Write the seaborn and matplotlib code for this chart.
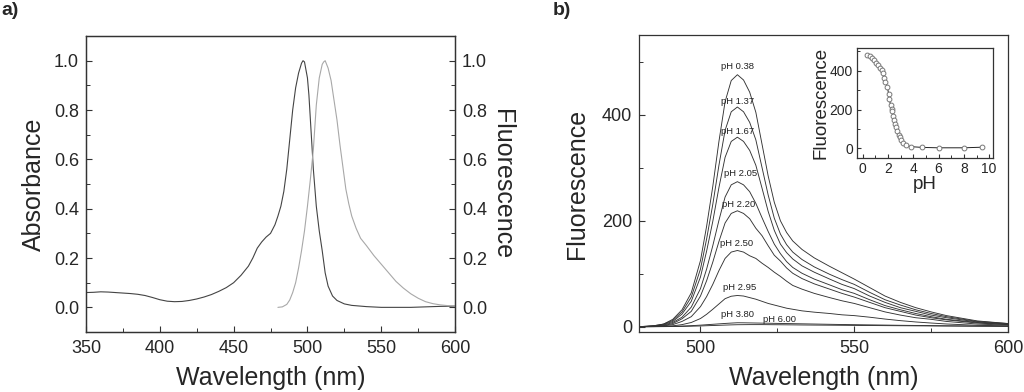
import matplotlib
matplotlib.use('Agg')
import matplotlib.pyplot as plt
import numpy as np
import pandas as pd
import seaborn as sns
from matplotlib.ticker import MultipleLocator

# ---- panel a: absorbance / fluorescence spectra
abs_wl = [350, 355, 360, 365, 370, 375, 380, 385, 390, 395, 400, 405, 410, 415, 420, 425,
          430, 435, 440, 445, 450, 455, 460, 463, 466, 469, 472, 475, 478, 480, 482, 484,
          486, 488, 490, 492, 494, 496, 497, 498, 500, 501, 502, 504, 506, 508, 510, 512,
          514, 517, 520, 525, 530, 540, 550, 560, 570, 580, 590, 600]
absorb = [0.060, 0.061, 0.063, 0.062, 0.060, 0.058, 0.056, 0.053, 0.048, 0.040, 0.031, 0.025,
          0.023, 0.024, 0.028, 0.034, 0.042, 0.052, 0.065, 0.080, 0.100, 0.130, 0.167, 0.20,
          0.24, 0.265, 0.285, 0.30, 0.335, 0.37, 0.41, 0.47, 0.56, 0.68, 0.80, 0.89, 0.95,
          0.99, 1.0, 0.995, 0.93, 0.86, 0.76, 0.56, 0.41, 0.31, 0.23, 0.14, 0.086, 0.046,
          0.028, 0.014, 0.008, 0.003, 0.0, 0.0, 0.0, 0.002, 0.004, 0.005]

fl_wl = [480, 483, 486, 488, 490, 492, 494, 496, 498, 500, 502, 504, 506, 508, 510, 511, 512,
         514, 516, 518, 520, 522, 524, 526, 528, 530, 533, 536, 540, 545, 550, 555, 560, 565,
         570, 575, 580, 585, 590, 595, 600]
fl_norm = [0.0, 0.002, 0.012, 0.03, 0.06, 0.10, 0.16, 0.23, 0.31, 0.41, 0.52, 0.64, 0.82, 0.93,
           0.985, 0.995, 1.0, 0.97, 0.92, 0.84, 0.76, 0.66, 0.57, 0.48, 0.42, 0.37, 0.32, 0.28,
           0.25, 0.21, 0.175, 0.14, 0.105, 0.078, 0.055, 0.037, 0.023, 0.015, 0.01, 0.007, 0.005]

# ---- panel b: emission spectra at different pH
wl = [480, 485, 488, 491, 494, 497, 500, 502, 504, 506, 508, 510, 512, 514, 516, 518, 520, 522,
      524, 526, 528, 530, 533, 537, 542, 546, 550, 555, 560, 565, 570, 575, 580, 590, 600]
ph_labels = ['pH 0.38', 'pH 1.37', 'pH 1.67', 'pH 2.05', 'pH 2.20', 'pH 2.50', 'pH 2.95',
             'pH 3.80', 'pH 6.00']
f_038 = [0, 2, 5, 14, 32, 64, 125, 190, 265, 350, 425, 465, 476, 466, 443, 405, 345, 285,
         235, 200, 178, 162, 146, 130, 114, 102, 90, 74, 58, 46, 36, 28, 21, 11, 6]
f_137 = [0, 2, 5, 12, 28, 56, 109, 166, 231, 305, 371, 406, 415, 406, 386, 353, 301, 249,
         205, 175, 155, 141, 127, 113, 99, 89, 80, 65, 51, 41, 32, 25, 19, 10, 6]
f_167 = [0, 1, 4, 10, 24, 48, 94, 143, 199, 263, 320, 350, 358, 350, 333, 305, 262, 218,
         182, 156, 140, 128, 115, 103, 90, 80, 72, 58, 46, 36, 29, 22, 17, 9, 5]
f_205 = [0, 1, 3, 8, 18, 37, 72, 109, 153, 201, 245, 268, 274, 268, 255, 233, 206, 180,
         156, 138, 123, 112, 101, 90, 79, 70, 63, 51, 40, 32, 25, 19, 14, 8, 4]
f_220 = [0, 1, 2, 6, 15, 29, 58, 87, 122, 161, 196, 214, 219, 214, 204, 186, 172, 153,
         135, 124, 111, 101, 91, 81, 71, 63, 56, 46, 36, 29, 22, 17, 13, 7, 4]
f_250 = [0, 0.6, 1.6, 4, 10, 19, 38, 57, 80, 106, 129, 141, 144, 141, 134, 129, 120, 112,
         103, 95, 86, 78, 71, 63, 55, 49, 44, 36, 28, 22, 17, 14, 10, 5, 3]
f_295 = [0, 0.3, 0.7, 1.7, 4, 8, 15.5, 23.5, 33, 43, 53, 57.6, 59, 58, 55, 52, 48, 44,
         41, 38, 35, 33, 30, 27.5, 25, 22.5, 21, 18, 14.5, 11.5, 9, 7, 5.2, 2.7, 1.5]
f_380 = [0, 0.2, 0.4, 0.8, 1.3, 2, 3, 3.8, 4.6, 5.4, 6.2, 6.9, 7.5, 7.4, 7.2, 7, 6.8, 6.6,
         6.4, 6.2, 6, 5.8, 5.5, 5.1, 4.6, 4.2, 3.9, 3.5, 3.1, 2.7, 2.4, 2.1, 1.8, 1.3, 1]
f_600 = [0, 0.1, 0.2, 0.4, 0.6, 1, 1.5, 1.9, 2.3, 2.7, 3.1, 3.5, 3.8, 3.9, 4, 4, 4, 3.9,
         3.8, 3.7, 3.6, 3.5, 3.3, 3.1, 2.9, 2.7, 2.5, 2.3, 2.1, 1.9, 1.7, 1.5, 1.3, 1, 0.7]
curves = [f_038, f_137, f_167, f_205, f_220, f_250, f_295, f_380, f_600]
# label anchor (wavelength, fluorescence)
lab_x = [512, 512, 512, 513, 512.4, 511.6, 512.6, 512, 525.7]
lab_y = [492, 426, 368, 289, 231, 157, 74, 23, 13]

# ---- inset: titration
ph = [0.38, 0.55, 0.72, 0.90, 1.05, 1.20, 1.37, 1.50, 1.58, 1.67, 1.80, 1.95, 2.05, 2.12,
      2.20, 2.28, 2.35, 2.42, 2.50, 2.58, 2.65, 2.75, 2.85, 2.95, 3.05, 3.20, 3.40, 3.80,
      4.70, 6.00, 8.00, 9.40]
ph_f = [482, 476, 468, 455, 442, 428, 415, 402, 388, 365, 340, 318, 280, 252, 222, 205, 190,
        165, 144, 125, 110, 90, 70, 59, 45, 30, 18, 9, 5, 3, 3, 6]

sns.set_style('ticks')
plt.rcParams['font.family'] = ['Liberation Sans', 'DejaVu Sans']
plt.rcParams['xtick.direction'] = 'in'
plt.rcParams['ytick.direction'] = 'in'
plt.rcParams['axes.edgecolor'] = '#333333'
plt.rcParams['axes.linewidth'] = 0.9

fig = plt.figure(figsize=(10.24, 3.92), dpi=100)

def style(ax, fs=13):
    ax.tick_params(which='major', length=4.5, width=0.8, color='#333333', labelsize=fs, pad=6)
    ax.tick_params(which='minor', length=2.8, width=0.7, color='#333333')

# panel a
ax1 = fig.add_axes([0.084, 0.153, 0.3604, 0.7551])
sns.lineplot(x=abs_wl, y=absorb, ax=ax1, color='#444444', lw=0.8)
ax2 = ax1.twinx()
sns.lineplot(x=fl_wl, y=fl_norm, ax=ax2, color='#a8a8a8', lw=0.8)
for ax in (ax1, ax2):
    ax.set_xlim(350, 600)
    ax.set_ylim(-0.1, 1.1)
    ax.yaxis.set_major_locator(MultipleLocator(0.2))
    ax.yaxis.set_minor_locator(MultipleLocator(0.1))
    ax.yaxis.set_major_formatter(plt.FormatStrFormatter('%.1f'))
    style(ax)
ax1.tick_params(axis='y', pad=5)
ax2.tick_params(axis='y', pad=5)
ax1.xaxis.set_major_locator(MultipleLocator(50))
ax1.xaxis.set_minor_locator(MultipleLocator(25))
ax1.set_xlabel('Wavelength (nm)', fontsize=18, labelpad=6)
ax1.set_ylabel('Absorbance', fontsize=18, labelpad=6)
ax2.set_ylabel('Fluorescence', fontsize=18, rotation=270, labelpad=19)
fig.text(0.001, 0.995, 'a)', fontsize=14, fontweight='bold', va='top')

# panel b
axb = fig.add_axes([0.624, 0.153, 0.3604, 0.7577])
rows = []
for lab, vals in zip(ph_labels, curves):
    for w, v in zip(wl, vals):
        rows.append((lab, w, v))
df = pd.DataFrame(rows, columns=['pH', 'wl', 'F'])
sns.lineplot(data=df, x='wl', y='F', hue='pH', palette=['#333333'] * len(ph_labels),
             legend=False, ax=axb, lw=0.65)
for lab, x, y in zip(ph_labels, lab_x, lab_y):
    axb.text(x, y, lab, fontsize=6.8, ha='center', va='center', color='#222222')
axb.set_xlim(480, 600)
axb.set_ylim(-10, 551)
axb.xaxis.set_major_locator(MultipleLocator(50))
axb.xaxis.set_minor_locator(MultipleLocator(25))
axb.yaxis.set_major_locator(MultipleLocator(200))
axb.yaxis.set_minor_locator(MultipleLocator(100))
style(axb)
axb.tick_params(axis='y', pad=5)
axb.set_xlabel('Wavelength (nm)', fontsize=18, labelpad=6)
axb.set_ylabel('Fluorescence', fontsize=18, labelpad=9)
fig.text(0.54, 0.995, 'b)', fontsize=14, fontweight='bold', va='top')

# inset
axi = fig.add_axes([0.8369, 0.5982, 0.1328, 0.2793])
sns.lineplot(x=ph, y=ph_f, ax=axi, color='#222222', lw=0.7, sort=True)
sns.scatterplot(x=ph, y=ph_f, ax=axi, s=12, facecolor='white', edgecolor='#777777',
                linewidth=0.7, zorder=3)
axi.set_xlim(-0.45, 10.3)
axi.set_ylim(-47, 517)
axi.xaxis.set_major_locator(MultipleLocator(2))
axi.xaxis.set_minor_locator(MultipleLocator(1))
axi.yaxis.set_major_locator(MultipleLocator(200))
axi.yaxis.set_minor_locator(MultipleLocator(100))
style(axi, fs=10)
axi.tick_params(which='major', length=3, pad=3)
axi.tick_params(which='minor', length=2)
axi.set_xlabel('pH', fontsize=13.5, labelpad=0)
axi.set_ylabel('Fluorescence', fontsize=13.5, labelpad=0)

fig.savefig('out.png', dpi=100)
